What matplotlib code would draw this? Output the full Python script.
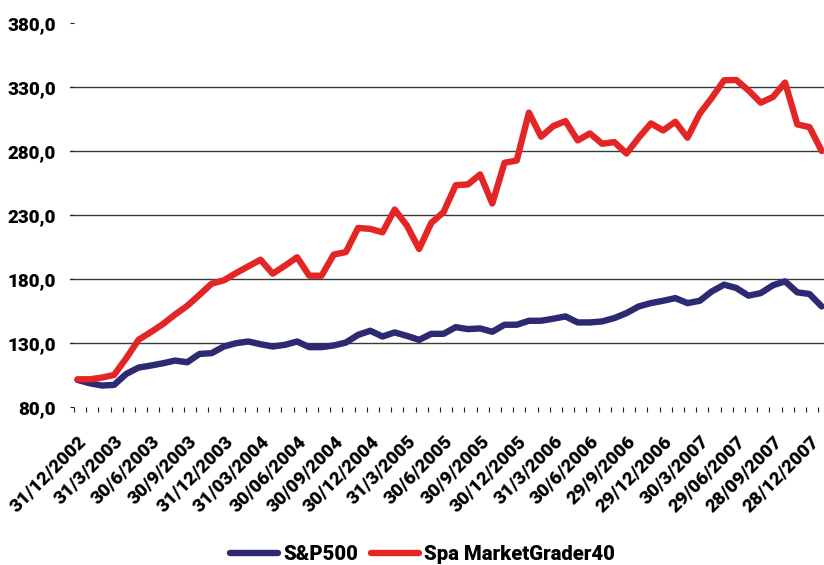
import numpy as np
import matplotlib
matplotlib.use("Agg")
import matplotlib.pyplot as plt
from matplotlib.ticker import FixedLocator, FuncFormatter
from matplotlib.lines import Line2D
from matplotlib.font_manager import FontProperties

# ---- data -------------------------------------------------------------
tick_labels = ["31/12/2002", "31/3/2003", "30/6/2003", "30/9/2003", "31/12/2003",
               "31/03/2004", "30/06/2004", "30/09/2004", "30/12/2004", "31/3/2005",
               "30/6/2005", "30/9/2005", "30/12/2005", "31/3/2006", "30/6/2006",
               "29/9/2006", "29/12/2006", "30/3/2007", "29/06/2007", "28/09/2007",
               "28/12/2007"]

sp500 = [101.4, 98.8, 97.0, 97.5, 106.1, 111.0, 112.6, 114.4, 116.5, 115.2,
         121.7, 122.3, 127.5, 130.1, 131.4, 129.3, 127.5, 128.8, 131.4, 127.0,
         127.0, 128.3, 130.6, 136.6, 139.8, 135.3, 138.5, 135.8, 132.7, 137.4,
         137.4, 142.6, 141.1, 141.6, 139.0, 144.5, 144.5, 147.6, 147.6, 149.2,
         151.0, 146.3, 146.3, 147.1, 149.7, 153.6, 158.8, 161.4, 163.2, 165.3,
         161.4, 163.2, 170.6, 175.8, 173.2, 167.2, 169.2, 175.3, 178.4, 169.8,
         168.5, 158.8]

spa_mg40 = [101.9, 101.9, 103.2, 105.3, 118.4, 132.7, 138.7, 145.0, 152.5, 159.3,
            167.9, 176.6, 179.2, 184.9, 190.1, 195.3, 184.4, 190.6, 197.2, 182.8,
            182.8, 199.3, 201.3, 220.1, 219.4, 216.7, 234.5, 222.0, 203.7, 224.1,
            232.4, 253.5, 254.1, 261.9, 239.2, 271.0, 272.8, 310.2, 291.4, 299.7,
            303.6, 288.5, 294.0, 285.9, 287.2, 278.3, 290.6, 301.8, 296.3, 303.1,
            290.6, 309.4, 321.9, 335.5, 335.7, 327.6, 318.0, 322.4, 333.7, 301.0,
            298.9, 280.2]

series_names = ["S&P500", "Spa MarketGrader40"]
colors = ["#2E2973", "#E32625"]

# ---- figure -----------------------------------------------------------
W, H = 824, 565
fig = plt.figure(figsize=(W / 100, H / 100), dpi=100)
ax = fig.add_axes([70 / W, (H - 407.3) / H, (W - 70) / W, (407.3 - 23.3) / H])

x = np.arange(len(sp500))
lw = 4.6
ax.plot(x, sp500, color=colors[0], lw=lw, solid_joinstyle="round",
        solid_capstyle="round", zorder=3)
ax.plot(x, spa_mg40, color=colors[1], lw=lw, solid_joinstyle="round",
        solid_capstyle="round", zorder=4)

ax.set_ylim(80, 380)
ax.set_xlim(-7.5 / 12.2, (W - 77.5) / 12.2)

for s in ax.spines.values():
    s.set_visible(False)

tick_fp = FontProperties(family=["Roboto", "DejaVu Sans"], weight="heavy", size=13.5)

# y axis
ax.yaxis.set_major_locator(FixedLocator(np.arange(80, 381, 50)))
ax.yaxis.set_major_formatter(FuncFormatter(lambda v, p: f"{v:.1f}".replace(".", ",")))
ax.tick_params(axis="y", direction="in", length=2.9, width=0.8, color="#222222",
               pad=10.3)
for lab in ax.get_yticklabels():
    lab.set_fontproperties(tick_fp)
ax.yaxis.grid(True, color="#3a3a3a", lw=1.0)
gl = ax.yaxis.get_gridlines()
gl[0].set_visible(False)
gl[-1].set_visible(False)

# x axis
label_pos = np.arange(0, len(sp500), 3)[:len(tick_labels)]
ax.set_xticks(label_pos)
ax.set_xticklabels(tick_labels)
ax.set_xticks(np.arange(len(sp500)) - 0.29, minor=True)
ax.tick_params(axis="x", which="major", length=0, pad=18.0)
ax.tick_params(axis="x", which="minor", direction="out", length=3.6, width=0.8,
               color="#222222")
for lab in ax.get_xticklabels():
    lab.set_fontproperties(tick_fp)
    lab.set_rotation(45)
    lab.set_rotation_mode("anchor")
    lab.set_ha("right")
    lab.set_va("top")

# legend
handles = [Line2D([], [], color=c, lw=lw, solid_capstyle="round") for c in colors]
fig.legend(handles, series_names, loc="center", bbox_to_anchor=(0.5128, 0.019),
           ncol=2, frameon=False, handlelength=2.36, handletextpad=0.25,
           columnspacing=0.64,
           prop=FontProperties(family=["Roboto", "DejaVu Sans"],
                               weight="heavy", size=14.6))

fig.savefig("out.png", dpi=100)
